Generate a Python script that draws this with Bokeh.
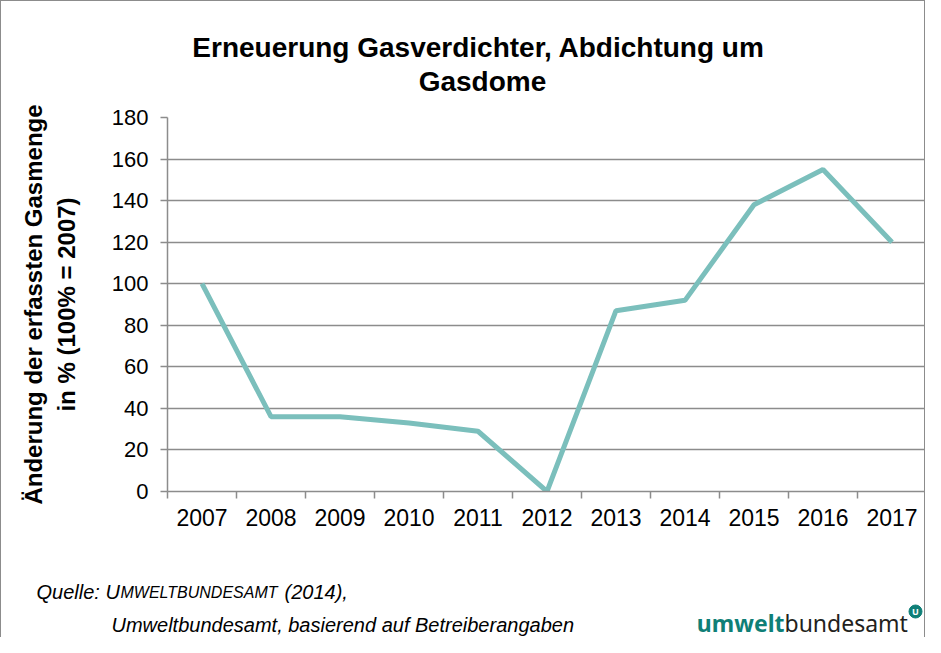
from bokeh.plotting import figure
from bokeh.models import FixedTicker, Range1d
from bokeh.layouts import column
from bokeh.core.properties import value
from bokeh.embed import file_html
from bokeh.resources import INLINE

years = ["2007", "2008", "2009", "2010", "2011", "2012", "2013", "2014", "2015", "2016", "2017"]
values = [100, 36, 36, 33, 29, 0, 87, 92, 138, 155, 120]
y_ticks = [0, 20, 40, 60, 80, 100, 120, 140, 160, 180]

title_lines = ["Erneuerung Gasverdichter,  Abdichtung um", "Gasdome"]
ylabel_lines = ["Änderung der erfassten Gasmenge", "in % (100% = 2007)"]
source_parts = ["Quelle: ", "U", "MWELTBUNDESAMT", "(2014),"]
source_line2 = "Umweltbundesamt, basierend auf Betreiberangaben"
logo_parts = ["umwelt", "bundesamt"]

FONT = "Liberation Sans"
LOGO_FONT = "Noto Sans"
GRID = "#8c8c8c"
LINE = "#7bbfbc"
TEAL = "#0f7f77"
W = 925
HEAD_H, MAIN_H, FOOT_H = 100, 460, 77
BORDER = "1px solid #8c8c8c"


def blank(h, styles):
    f = figure(width=W, height=h, output_backend="svg", toolbar_location=None,
               x_range=Range1d(0, W), y_range=Range1d(h, 0),
               x_axis_type=None, y_axis_type=None, min_border=0, frame_align=False)
    f.outline_line_color = None
    f.xgrid.visible = False
    f.ygrid.visible = False
    f.styles = styles
    return f


# ---------- header ----------
head = blank(HEAD_H, {"border-left": BORDER, "border-right": BORDER, "border-top": BORDER,
                      "box-sizing": "border-box"})
head.text(x=[481, 481], y=[46, 80], text=title_lines, text_align="center", text_baseline="middle",
          text_font=value(FONT), text_font_size="28px", text_font_style="bold", text_color="black")

# ---------- main chart ----------
xs = list(range(len(years)))
bounds = [i - 0.5 for i in range(len(years) + 1)]

p = figure(width=W, height=MAIN_H, output_backend="svg", toolbar_location=None,
           x_range=Range1d(-0.5, len(years) - 0.5), y_range=Range1d(0, 180),
           min_border_left=166, min_border_right=0, min_border_top=17, min_border_bottom=69,
           frame_align=False)
p.styles = {"border-left": BORDER, "border-right": BORDER, "box-sizing": "border-box"}
p.outline_line_color = None

p.line(xs, values, line_color=LINE, line_width=5)

xa = p.xaxis[0]
xa.ticker = FixedTicker(ticks=xs, minor_ticks=bounds)
xa.major_label_overrides = {i: y for i, y in enumerate(years)}
xa.major_tick_out = 0
xa.major_tick_in = 0
xa.minor_tick_out = 7
xa.minor_tick_in = 0
xa.minor_tick_line_color = GRID
xa.minor_tick_line_width = 1.5
xa.axis_line_color = GRID
xa.axis_line_width = 1.5
xa.major_label_text_font = FONT
xa.major_label_text_font_size = "23px"
xa.major_label_text_color = "black"
xa.major_label_standoff = 10

ya = p.yaxis[0]
ya.ticker = FixedTicker(ticks=y_ticks)
ya.major_tick_out = 7
ya.major_tick_in = 0
ya.minor_tick_out = 0
ya.minor_tick_in = 0
ya.major_tick_line_color = GRID
ya.major_tick_line_width = 1.5
ya.axis_line_color = GRID
ya.axis_line_width = 1.5
ya.major_label_text_font = FONT
ya.major_label_text_font_size = "22px"
ya.major_label_text_color = "black"
ya.major_label_standoff = 12
ya.axis_label = "\n".join(ylabel_lines)
ya.axis_label_text_font = FONT
ya.axis_label_text_font_size = "24px"
ya.axis_label_text_font_style = "bold"
ya.axis_label_text_color = "black"
ya.axis_label_standoff = 29

p.xgrid.grid_line_color = None
p.ygrid.ticker = FixedTicker(ticks=y_ticks)
p.ygrid.grid_line_color = GRID
p.ygrid.grid_line_width = 1.5

# ---------- footer ----------
foot = blank(FOOT_H, {"border-left": BORDER, "border-right": BORDER, "box-sizing": "border-box"})
common = dict(text_baseline="middle", text_color="black", text_font_style="italic", text_font=value(FONT))
foot.text(x=[35], y=[31], text=[source_parts[0]], text_font_size="20px", **common)
foot.text(x=[104], y=[31], text=[source_parts[1]], text_font_size="20px", **common)
foot.text(x=[119], y=[32], text=[source_parts[2]], text_font_size="16px", **common)
foot.text(x=[283], y=[31], text=[source_parts[3]], text_font_size="20px", **common)
foot.text(x=[110], y=[64], text=[source_line2], text_font_size="20px", **common)

foot.text(x=[783], y=[62], text=[logo_parts[0]], text_align="right", text_baseline="middle",
          text_font=value(LOGO_FONT), text_font_size="23px", text_font_style="bold", text_color=TEAL)
foot.text(x=[783], y=[62], text=[logo_parts[1]], text_align="left", text_baseline="middle",
          text_font=value(LOGO_FONT), text_font_size="23px", text_color="#231f20")
foot.scatter(x=[914], y=[51], size=13, marker="circle", fill_color=TEAL, line_color=TEAL)
foot.text(x=[914], y=[51], text=["U"], text_align="center", text_baseline="middle",
          text_font=value(LOGO_FONT), text_font_size="9px", text_font_style="bold", text_color="white")

layout = column(head, p, foot, spacing=0)
open("out.html", "w").write(file_html(layout, INLINE))
